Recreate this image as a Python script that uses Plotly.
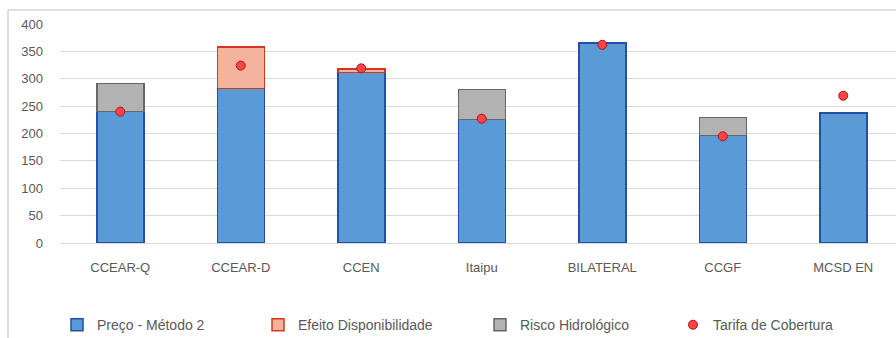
import plotly.graph_objects as go

# Categories and series values (R$/MWh)
categorias = ["CCEAR-Q", "CCEAR-D", "CCEN", "Itaipu", "BILATERAL", "CCGF", "MCSD EN"]
preco_metodo2 = [240, 282, 311, 226, 365, 196, 237]
efeito_disponibilidade = [None, 76, 7, None, None, None, None]
risco_hidrologico = [51, None, None, 54, None, 33, None]
tarifa_cobertura = [240, 324, 319, 227, 362, 195, 269]
y_ticks = [0, 50, 100, 150, 200, 250, 300, 350, 400]

FONT = "Liberation Sans"
TXT = "#595959"
BAR_W = 0.39

fig = go.Figure()

fig.add_trace(go.Bar(
    x=categorias, y=preco_metodo2, name="Preço - Método 2", width=BAR_W,
    marker=dict(color="#5B9BD5", line=dict(color="#2250A8", width=1.5)),
    legend="legend", showlegend=True,
))
fig.add_trace(go.Bar(
    x=categorias, y=efeito_disponibilidade, name="Efeito Disponibilidade", width=BAR_W,
    marker=dict(color="#F4B49C", line=dict(color="#D2361E", width=1.5)),
    legend="legend2", showlegend=True,
))
fig.add_trace(go.Bar(
    x=categorias, y=risco_hidrologico, name="Risco Hidrológico", width=BAR_W,
    marker=dict(color="#B2B2B2", line=dict(color="#666666", width=1.5)),
    legend="legend3", showlegend=True,
))
fig.add_trace(go.Scatter(
    x=categorias, y=tarifa_cobertura, name="Tarifa de Cobertura", mode="markers",
    marker=dict(symbol="circle", size=9, color="#FF4444",
                line=dict(color="#B0101A", width=1)),
    legend="legend4", showlegend=True,
))

# plot area spans x = 60..896 px, y = 24..243 px
PLOT_L, PLOT_W = 60, 836
leg_y = -0.375


def leg_x(text_px):
    return (text_px - 40 - PLOT_L) / PLOT_W


legend_common = dict(
    orientation="h", yanchor="middle", y=leg_y, xanchor="left",
    font=dict(family=FONT, size=14, color=TXT),
    bgcolor="rgba(0,0,0,0)", borderwidth=0, visible=True,
)

fig.update_layout(
    width=896, height=338,
    margin=dict(l=PLOT_L, r=0, t=24, b=95, autoexpand=False),
    paper_bgcolor="white", plot_bgcolor="white",
    barmode="stack",
    showlegend=True,
    font=dict(family=FONT, size=13, color=TXT),
    legend=dict(x=leg_x(97), **legend_common),
    legend2=dict(x=leg_x(298), **legend_common),
    legend3=dict(x=leg_x(520), **legend_common),
    legend4=dict(x=leg_x(713), **legend_common),
    xaxis=dict(
        range=[-0.5, -0.5 + PLOT_W / 120.5],
        showgrid=False, showline=True, linecolor="#D9D9D9", linewidth=1,
        ticks="", ticklabelstandoff=12,
        tickfont=dict(family=FONT, size=13, color=TXT),
    ),
    yaxis=dict(
        range=[0, 400], tickvals=y_ticks,
        showgrid=True, gridcolor="#D9D9D9", gridwidth=1,
        zeroline=False, showline=False, ticks="", ticklabelstandoff=16,
        tickfont=dict(family=FONT, size=13, color=TXT),
    ),
    shapes=[
        # chart-area frame
        dict(type="rect", xref="paper", yref="paper",
             x0=(8 - PLOT_L) / PLOT_W, x1=1.05,
             y0=-0.6, y1=(243.3 - 10) / 219.3,
             line=dict(color="#BFBFBF", width=1), fillcolor="rgba(0,0,0,0)",
             layer="below"),
    ],
)

fig.write_html("out.html")
